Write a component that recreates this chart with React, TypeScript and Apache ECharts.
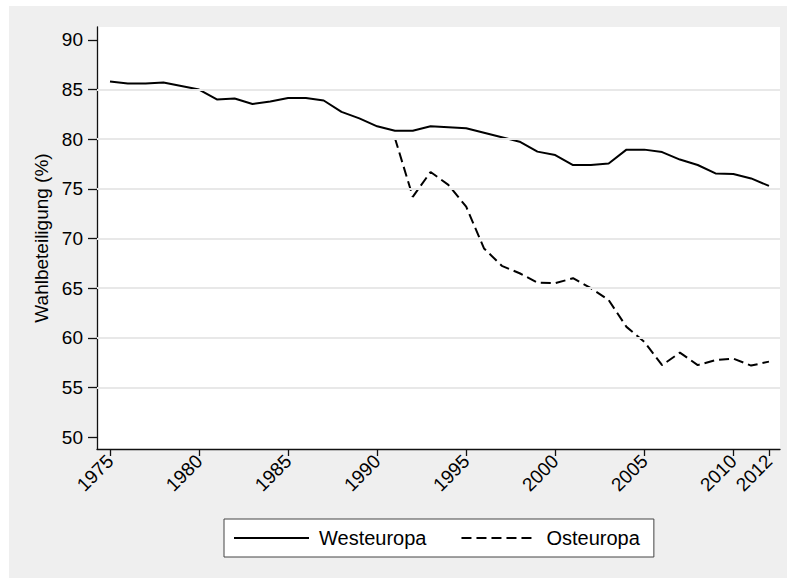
import React, { useEffect, useRef } from "react";
import * as echarts from "echarts";

const years = [1975,1976,1977,1978,1979,1980,1981,1982,1983,1984,1985,1986,1987,1988,1989,1990,1991,1992,1993,1994,1995,1996,1997,1998,1999,2000,2001,2002,2003,2004,2005,2006,2007,2008,2009,2010,2011,2012];
const westeuropa = [85.8,85.6,85.6,85.7,85.35,85.0,84.0,84.1,83.55,83.8,84.15,84.15,83.9,82.75,82.1,81.3,80.85,80.85,81.3,81.2,81.1,80.65,80.2,79.75,78.75,78.4,77.4,77.4,77.55,78.95,78.95,78.7,77.95,77.4,76.55,76.5,76.05,75.3];
const osteuropaYears = [1991,1992,1993,1994,1995,1996,1997,1998,1999,2000,2001,2002,2003,2004,2005,2006,2007,2008,2009,2010,2011,2012];
const osteuropa = [80.1,74.2,76.7,75.4,73.2,69.0,67.25,66.5,65.55,65.5,66.0,65.0,63.8,61.1,59.6,57.25,58.5,57.25,57.75,57.9,57.2,57.6];
const xTicks = [1975,1980,1985,1990,1995,2000,2005,2010,2012];
const yTicks = [50,55,60,65,70,75,80,85,90];
const gridValues = [55,60,65,70,75,80,85];

const FONT = 'Arial, "Liberation Sans", sans-serif';

export default function App() {
  const ref = useRef<HTMLDivElement>(null);
  useEffect(() => {
    if (!ref.current) return;
    const chart = echarts.init(ref.current, null, { renderer: "svg" });
    chart.setOption({
      animation: false,
      backgroundColor: "#ffffff",
      textStyle: { fontFamily: FONT },
      graphic: [
        { type: "rect", z: -10, shape: { x: 9, y: 6, width: 778, height: 572 }, style: { fill: "#efefef" }, silent: true },
      ],
      grid: {
        left: 97, top: 27, right: 7, bottom: 130,
        show: true, backgroundColor: "#ffffff", borderWidth: 0,
        containLabel: false,
      },
      legend: {
        left: 224, top: 519,
        data: ["Westeuropa", "Osteuropa"],
        backgroundColor: "#ffffff",
        borderColor: "#444444",
        borderWidth: 1,
        borderRadius: 0,
        padding: [9, 14, 9, 9],
        itemWidth: 75,
        itemHeight: 18,
        itemGap: 34,
        itemStyle: { opacity: 0 },
        textStyle: { fontSize: 20, color: "#000", fontFamily: FONT, padding: [0, 0, 0, 5] },
      },
      xAxis: {
        type: "value",
        min: 1974.27,
        max: 2012.62,
        axisLine: { show: true, lineStyle: { color: "#111", width: 1.3 } },
        axisTick: { show: true, length: 7, customValues: xTicks, lineStyle: { color: "#111", width: 1.3 } },
        axisLabel: {
          customValues: xTicks,
          rotate: 45,
          fontSize: 19,
          color: "#000",
          margin: 9,
          fontFamily: FONT,
          formatter: (v: number) => String(v),
        },
        splitLine: { show: false },
      },
      yAxis: {
        type: "value",
        min: 48.8,
        max: 91.3,
        name: "Wahlbeteiligung (%)",
        nameLocation: "middle",
        nameGap: 44,
        nameTextStyle: { fontSize: 19, color: "#000", fontFamily: FONT },
        axisLine: { show: true, lineStyle: { color: "#111", width: 1.3 } },
        axisTick: { show: true, length: 9, customValues: yTicks, lineStyle: { color: "#111", width: 1.3 } },
        axisLabel: { customValues: yTicks, fontSize: 19, color: "#000", margin: 14, fontFamily: FONT },
        splitLine: { show: false },
      },
      series: [
        {
          type: "line",
          name: "__grid",
          data: [],
          z: 1,
          silent: true,
          markLine: {
            silent: true,
            symbol: "none",
            label: { show: false },
            lineStyle: { color: "#e8e8e8", width: 2, type: "solid" },
            data: gridValues.map((v) => ({ yAxis: v })),
          },
        },
        {
          type: "line",
          name: "Westeuropa",
          z: 3,
          showSymbol: false,
          symbol: "none",
          data: years.map((y, i) => [y, westeuropa[i]]),
          lineStyle: { color: "#000", width: 2, type: "solid" },
          itemStyle: { color: "#000" },
        },
        {
          type: "line",
          name: "Osteuropa",
          z: 3,
          showSymbol: false,
          symbol: "none",
          data: osteuropaYears.map((y, i) => [y, osteuropa[i]]),
          lineStyle: { color: "#000", width: 2, type: [10, 5] },
          itemStyle: { color: "#000" },
        },
      ],
    });
    return () => chart.dispose();
  }, []);
  return (
    <div
      ref={ref}
      style={{ position: "fixed", left: 0, top: 0, width: 787, height: 579 }}
    />
  );
}
